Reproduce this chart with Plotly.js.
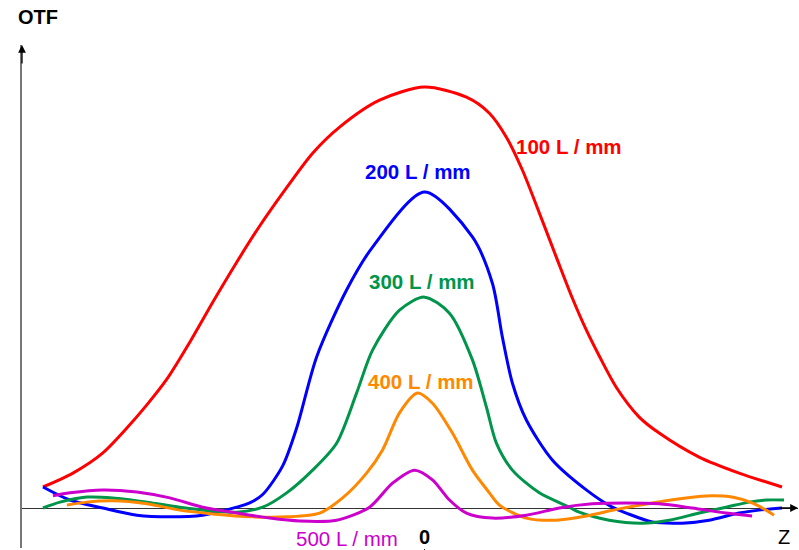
<!DOCTYPE html>
<html><head><meta charset="utf-8">
<script src="https://cdn.plot.ly/plotly-3.0.1.min.js"></script>
<style>html,body{margin:0;padding:0;background:#fff}#chart{width:799px;height:550px}</style>
</head><body><div id="chart"></div>
<script>
// Z position (arbitrary units, 0 = focus) and OTF values
const z100 = [-3.82,-3.52,-3.22,-2.98,-2.78,-2.58,-2.35,-2.12,-1.88,-1.65,-1.42,-1.12,-0.85,-0.45,0,0.42,0.65,0.82,0.98,1.15,1.32,1.48,1.62,1.75,1.92,2.15,2.35,2.75,3.15,3.58];
const otf100 = [0.050,0.083,0.131,0.190,0.245,0.306,0.394,0.489,0.584,0.670,0.748,0.843,0.905,0.969,1.0,0.976,0.938,0.881,0.803,0.701,0.596,0.499,0.423,0.361,0.287,0.216,0.178,0.121,0.083,0.050];

const z200 = [-3.82,-3.55,-3.22,-2.88,-2.55,-2.22,-1.88,-1.75,-1.62,-1.42,-1.28,-1.08,-0.78,-0.52,0,0.48,0.68,0.78,0.88,1.02,1.28,1.62,1.88,2.02,2.28,2.58,2.85,3.15,3.35,3.58];
const otf200 = [0.050,0.019,0.0,-0.017,-0.021,-0.017,0.002,0.012,0.032,0.100,0.190,0.359,0.518,0.620,0.751,0.644,0.534,0.406,0.297,0.209,0.114,0.043,0.002,-0.012,-0.033,-0.036,-0.029,-0.012,-0.005,0.0];

const z300 = [-3.82,-3.65,-3.38,-3.12,-2.78,-2.45,-2.12,-1.88,-1.62,-1.38,-1.12,-0.88,-0.68,-0.52,-0.25,0,0.25,0.48,0.62,0.72,0.88,1.15,1.45,1.55,1.85,2.18,2.45,2.75,3.02,3.25,3.42,3.60];
const otf300 = [0.0,0.014,0.026,0.024,0.014,0.002,-0.007,-0.010,0.002,0.036,0.090,0.154,0.273,0.375,0.470,0.501,0.463,0.352,0.240,0.154,0.090,0.036,0.002,-0.010,-0.029,-0.036,-0.029,-0.012,0.002,0.014,0.019,0.019];

const z400 = [-3.58,-3.38,-3.12,-2.78,-2.45,-2.12,-1.72,-1.38,-1.05,-0.82,-0.58,-0.42,-0.25,-0.07,0.08,0.28,0.48,0.65,0.75,1.02,1.32,1.62,1.95,2.28,2.62,2.88,3.08,3.28,3.42,3.50];
const otf400 = [0.007,0.014,0.017,0.010,-0.005,-0.014,-0.021,-0.021,-0.012,0.024,0.083,0.138,0.226,0.273,0.249,0.178,0.090,0.036,0.007,-0.024,-0.029,-0.019,-0.002,0.012,0.024,0.029,0.026,0.012,-0.005,-0.017];

const z500 = [-3.72,-3.55,-3.22,-2.88,-2.55,-2.22,-1.88,-1.55,-1.25,-0.88,-0.55,-0.32,-0.10,0.08,0.25,0.42,0.68,1.02,1.35,1.68,2.02,2.35,2.68,3.02,3.28];
const otf500 = [0.029,0.036,0.043,0.038,0.024,0.002,-0.012,-0.024,-0.031,-0.029,0.002,0.059,0.090,0.067,0.019,-0.012,-0.024,-0.017,0.0,0.010,0.012,0.010,0.0,-0.012,-0.019];

const seriesNames = ['100 L / mm','200 L / mm','300 L / mm','400 L / mm','500 L / mm'];
const seriesColors = ['#ff0000','#0000ff','#00954a','#ff8800','#cc00cc'];
const labelZ = [1.45, -0.06, -0.02, -0.03, -0.78];
const labelOtf = [0.860, 0.800, 0.539, 0.300, -0.072];
const labelBold = [true, true, true, true, false];

const zs = [z100,z200,z300,z400,z500];
const ys = [otf100,otf200,otf300,otf400,otf500];

const traces = zs.map((x,i)=>({
  x:x, y:ys[i], type:'scatter', mode:'lines', name:seriesNames[i],
  line:{color:seriesColors[i], width:3, shape:'spline', smoothing:0.8},
  hoverinfo:'skip'
}));

const font = 'Liberation Sans, Arial, sans-serif';
const annotations = seriesNames.map((n,i)=>({
  x:labelZ[i], y:labelOtf[i], xref:'x', yref:'y', showarrow:false,
  text: labelBold[i] ? '<b>'+n+'</b>' : n,
  font:{family:font, size:20.5, color:seriesColors[i]}, xanchor:'center', yanchor:'middle'
}));
annotations.push(
  {x:0, y:-0.068, xref:'x', yref:'y', showarrow:false, text:'<b>0</b>', font:{family:font,size:20,color:'#000'}},
  {x:3.6, y:-0.068, xref:'x', yref:'y', showarrow:false, text:'Z', font:{family:font,size:20,color:'#000'}},
  {x:0, y:1, xref:'paper', yref:'paper', xshift:-6, yshift:28, xanchor:'left', yanchor:'middle', showarrow:false, text:'<b>OTF</b>', font:{family:font,size:20,color:'#000'}},
  // y axis arrow
  {x:0, y:1, xref:'paper', yref:'paper', ax:0, ay:20, axref:'pixel', ayref:'pixel', showarrow:true, arrowhead:2, arrowsize:1.2, arrowwidth:1.3, arrowcolor:'#000', text:''},
  // x axis arrow
  {x:1, y:0, xref:'paper', yref:'y', ax:-20, ay:0, showarrow:true, arrowhead:2, arrowsize:1.2, arrowwidth:1.3, arrowcolor:'#000', text:''}
);

const layout = {
  width:799, height:550,
  margin:{l:22, r:1, t:45, b:2},
  paper_bgcolor:'#fff', plot_bgcolor:'#fff',
  showlegend:false,
  xaxis:{range:[-4.03,3.74], showgrid:false, zeroline:false, showline:false,
         tickvals:[0], ticktext:[''], ticks:'outside', ticklen:7, tickcolor:'#333', tickwidth:1, fixedrange:true},
  yaxis:{range:[-0.095,1.10], showgrid:false, zeroline:true, zerolinecolor:'#333', zerolinewidth:1,
         showline:true, linecolor:'#777', linewidth:2, showticklabels:false, ticks:'', fixedrange:true},
  annotations:annotations
};
Plotly.newPlot('chart', traces, layout, {staticPlot:true, displayModeBar:false});
</script></body></html>
